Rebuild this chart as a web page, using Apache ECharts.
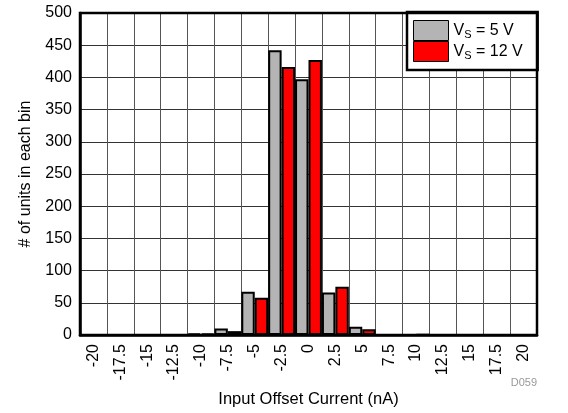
<!DOCTYPE html>
<html><head><meta charset="utf-8">
<script src="https://cdn.jsdelivr.net/npm/echarts@6/dist/echarts.min.js"></script>
<style>html,body{margin:0;padding:0;background:#fff}#c{width:568px;height:413px}</style>
</head><body><div id="c"></div>
<script>
var categories = ['-20','-17.5','-15','-12.5','-10','-7.5','-5','-2.5','0','2.5','5','7.5','10','12.5','15','17.5','20'];
var vs5 =  [0,0,0,0,2,10,67,442,397,66,13,0,0,0,0,0,0];
var vs12 = [0,0,0,0,2,6,58,416,427,75,9,0,1,0,0,0,0];
var seriesNames = ['VS = 5 V','VS = 12 V'];
var yTicks = {min:0, max:500, interval:50};
var font = 'Liberation Sans, Arial, sans-serif';
var chart = echarts.init(document.getElementById('c'));
chart.setOption({
  animation:false,
  grid:{left:80,right:31,top:13,bottom:78,containLabel:false,outerBoundsMode:'none',show:true,borderColor:'#000',borderWidth:2.5,backgroundColor:'transparent',z:10},
  legend:{
    orient:'vertical', left:407, top:12, itemWidth:35, itemHeight:20, itemGap:0,
    backgroundColor:'#fff', borderColor:'#000', borderWidth:2.5, padding:[8,15,8,6],
    icon:'rect',
    data:seriesNames.map(function(n){return {name:n, itemStyle:{borderColor:'#000',borderWidth:1}};}),
    formatter: function(n){ return '{v|V}{s|S}{v|' + n.slice(2) + '}'; },
    textStyle:{fontFamily:font,fontSize:16,color:'#000',padding:[0,0,0,0],
      rich:{v:{fontFamily:font,fontSize:16,color:'#000',lineHeight:20,verticalAlign:'middle'},
            s:{fontFamily:font,fontSize:11,color:'#000',lineHeight:20,verticalAlign:'bottom',padding:[9,0,0,0]}}}
  },
  xAxis:{type:'category',data:categories,boundaryGap:true,
    axisLine:{show:true,lineStyle:{color:'#000',width:2.5}},
    axisTick:{show:false},
    axisLabel:{rotate:90,fontFamily:font,fontSize:16,color:'#000',margin:9,interval:0},
    splitLine:{show:true,interval:0,lineStyle:{color:'#555',width:1}},
    name:'Input Offset Current (nA)',nameLocation:'middle',nameGap:56,
    nameTextStyle:{fontFamily:font,fontSize:16.5,color:'#000'}},
  yAxis:{type:'value',min:yTicks.min,max:yTicks.max,interval:yTicks.interval,
    axisLine:{show:true,lineStyle:{color:'#000',width:2.5}},
    axisTick:{show:false},
    axisLabel:{fontFamily:font,fontSize:16,color:'#000',margin:8},
    splitLine:{show:true,lineStyle:{color:'#333',width:1}},
    name:'# of units in each bin',nameLocation:'middle',nameGap:46,
    nameTextStyle:{fontFamily:font,fontSize:16,color:'#000'}},
  graphic:[{type:'text',right:31,top:377,style:{text:'D059',fontFamily:font,fontSize:11,fill:'#999'}}],
  series:[
    {name:seriesNames[0],type:'bar',data:vs5,barGap:'0%',barCategoryGap:'0%',
     itemStyle:{color:'#b4b4b4',borderColor:'#000',borderWidth:2}},
    {name:seriesNames[1],type:'bar',data:vs12,
     itemStyle:{color:'#ff0000',borderColor:'#000',borderWidth:2}}
  ]
});
</script></body></html>
